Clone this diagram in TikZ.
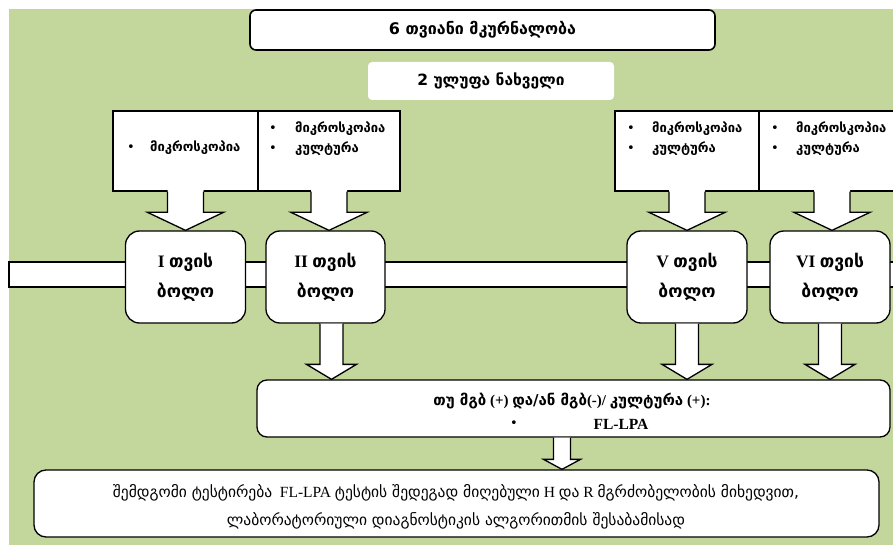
\documentclass[tikz,border=0pt]{standalone}
\usepackage{fontspec}
\setmainfont{Liberation Serif}
\newfontfamily\ka{DejaVu Sans}
\usetikzlibrary{calc}
\definecolor{bggreen}{RGB}{195,214,155}
\tikzset{
  outline/.style={draw=black, line width=1.3pt},
  titlebox/.style={outline, line width=1.6pt, fill=white, rounded corners=6pt, minimum width=465pt, minimum height=40pt, inner sep=0pt},
  subbox/.style={fill=white, rounded corners=4pt, minimum width=246pt, minimum height=38pt, inner sep=0pt},
  callbox/.style={outline, fill=white, minimum height=80pt, inner sep=0pt},
  monthbox/.style={outline, fill=white, rounded corners=14pt, minimum width=120pt, minimum height=92pt, inner sep=0pt, align=center, font=\fontsize{17.5}{30}\selectfont\bfseries},
  flbox/.style={outline, fill=white, rounded corners=10pt, minimum width=633pt, minimum height=57pt, inner sep=0pt},
  finalbox/.style={outline, fill=white, rounded corners=12pt, minimum width=845pt, minimum height=67pt, inner sep=0pt},
  item/.style={anchor=west, inner sep=0pt, font=\fontsize{13}{15}\selectfont\bfseries\ka},
  dot/.style={anchor=center, inner sep=0pt, font=\fontsize{13}{15}\selectfont\ka},
  txt/.style={inner sep=0pt},
  arrowline/.style={draw=black, line width=1.3pt}
}
% [#1 overlap] #2 top point, #3 tip point, #4 shaft half width, #5 head half width, #6 head length
\newcommand\blockarrow[6][0]{%
  \fill[white] let \p1=#2, \p2=#3 in
    (\x2-#4,\y1+#1) -- (\x2-#4,\y2+#6) -- (\x2-#5,\y2+#6) -- (\x2,\y2)
    -- (\x2+#5,\y2+#6) -- (\x2+#4,\y2+#6) -- (\x2+#4,\y1+#1) -- cycle;
  \draw[arrowline] let \p1=#2, \p2=#3 in
    (\x2-#4,\y1) -- (\x2-#4,\y2+#6) -- (\x2-#5,\y2+#6) -- (\x2,\y2)
    -- (\x2+#5,\y2+#6) -- (\x2+#4,\y2+#6) -- (\x2+#4,\y1);
}
\begin{document}
\begin{tikzpicture}[x=1pt,y=-1pt]
\useasboundingbox (0,0) rectangle (893,545);
\fill[bggreen] (9,9) rectangle (893,545);
% horizontal band
\fill[white] (9,262) rectangle (895,287);
\draw[outline] (895,262) -- (9,262) -- (9,287) -- (895,287);

% title boxes
\node[titlebox] (title) at (482.5,30) {\fontsize{16}{18}\selectfont\bfseries\ka 6 თვიანი მკურნალობა};
\node[subbox] (sub) at (491,81) {\fontsize{15.5}{18}\selectfont\bfseries\ka 2 ულუფა ნახველი};

% callout boxes
\node[callbox, minimum width=145pt] (c1) at (185.5,151) {};
\node[callbox, minimum width=142pt] (c2) at (329,151) {};
\node[callbox, minimum width=144pt] (c5) at (687,151) {};
\node[callbox, minimum width=146pt] (c6) at (832,151) {};

% month boxes
\node[monthbox] (m1) at (185.5,277) {I {\ka თვის}\\{\ka ბოლო}};
\node[monthbox, minimum width=119pt] (m2) at (325.5,277) {II {\ka თვის}\\{\ka ბოლო}};
\node[monthbox] (m5) at (687,277) {V {\ka თვის}\\{\ka ბოლო}};
\node[monthbox] (m6) at (830,277) {VI {\ka თვის}\\{\ka ბოლო}};

% callout arrows
\blockarrow[1.5]{(c1.south)}{(c1.south |- m1.north)}{18}{38}{18}
\blockarrow[1.5]{(c2.south)}{(c2.south |- m2.north)}{18}{38}{18}
\blockarrow[1.5]{(c5.south)}{(c5.south |- m5.north)}{18}{38}{18}
\blockarrow[1.5]{(c6.south)}{(c6.south |- m6.north)}{18}{38}{18}

% callout texts
\node[dot] (b1a) at (131,148) {•};
\node[item] (t1a) at (150,148) {მიკროსკოპია};
\node[dot] (b2a) at (273,129) {•};
\node[item] (t2a) at (295,129) {მიკროსკოპია};
\node[dot] (b2b) at (273,149) {•};
\node[item] (t2b) at (295,149) {კულტურა};
\node[dot] (b5a) at (631,129) {•};
\node[item] (t5a) at (652,129) {მიკროსკოპია};
\node[dot] (b5b) at (631,149) {•};
\node[item] (t5b) at (652,149) {კულტურა};
\node[dot] (b6a) at (775,129) {•};
\node[item] (t6a) at (796,129) {მიკროსკოპია};
\node[dot] (b6b) at (775,149) {•};
\node[item] (t6b) at (796,149) {კულტურა};

% FL-LPA box
\node[flbox] (fl) at (573.5,408.5) {};
\node[txt, font=\fontsize{15}{17}\selectfont\bfseries] (fl1) at (572,401) {{\ka თუ მგბ} (+) {\ka და/ან მგბ}(-)/ {\ka კულტურა} (+):};
\node[dot] (flb) at (514,424) {•};
\node[txt, font=\fontsize{15.5}{17}\selectfont\bfseries] (fl2) at (621,424) {FL-LPA};

% arrows months -> FL box
\blockarrow{(m2.south)}{($(m2.south |- fl.north)+(6,0)$)}{11.5}{25}{15}
\blockarrow{(m5.south)}{(m5.south |- fl.north)}{11.5}{25}{15}
\blockarrow{(m6.south)}{(m6.south |- fl.north)}{11.5}{25}{15}

% final box
\node[finalbox] (fin) at (456.5,503.5) {};
\node[txt, font=\fontsize{15.5}{17}\selectfont] (fin1) at (456,493) {{\ka შემდგომი ტესტირება}\ \ FL-LPA {\ka ტესტის შედეგად მიღებული} H {\ka და} R {\ka მგრძობელობის მიხედვით,}};
\node[txt, font=\fontsize{15.5}{17}\selectfont] (fin2) at (456,521) {\ka ლაბორატორიული დიაგნოსტიკის ალგორითმის შესაბამისად};

\blockarrow{(fl.south)}{($(fl.south |- fin.north)+(-11.5,0)$)}{8.5}{18.5}{10}
\end{tikzpicture}
\end{document}
